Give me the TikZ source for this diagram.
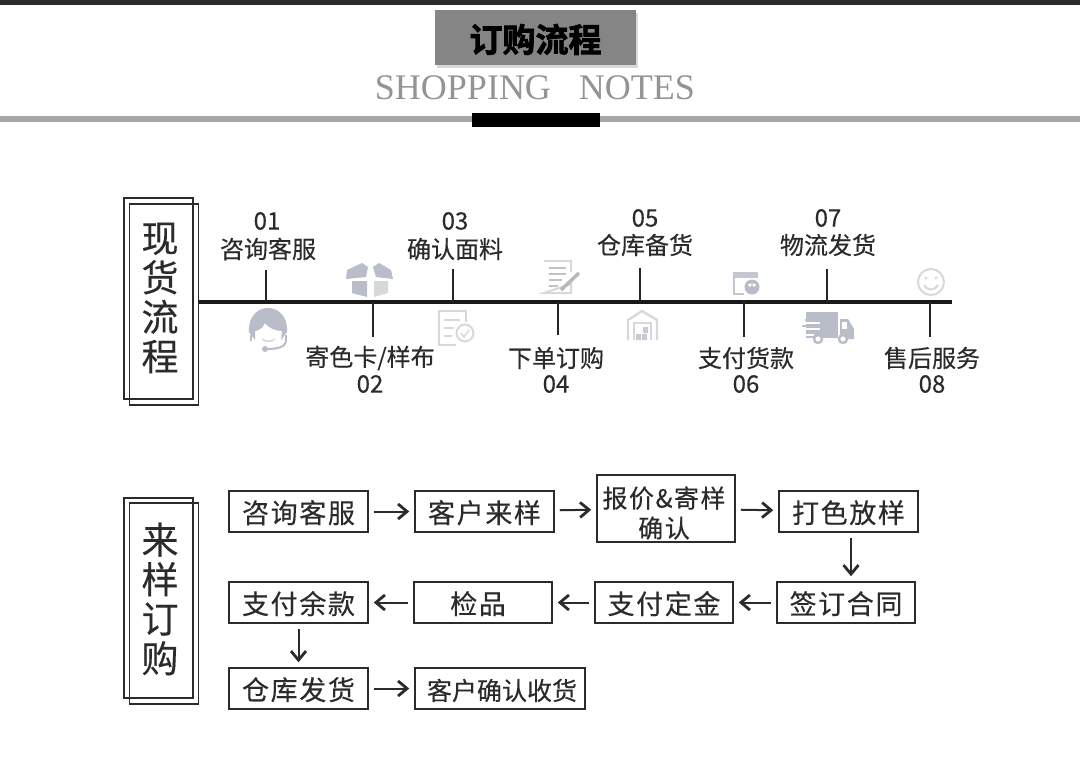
\documentclass[tikz,border=0pt]{standalone}
\usepackage{fontspec}
\usetikzlibrary{arrows.meta,shadows}
\setmainfont{Liberation Serif}
\newfontfamily\cjk[FakeBold=0.35]{Noto Sans CJK SC}
\newfontfamily\cjkwide[LetterSpace=6,FakeBold=0.35]{Noto Sans CJK SC}
\newfontfamily\cjkheavy[FakeBold=2.2]{Noto Sans CJK SC Bold}
\definecolor{linegray}{HTML}{2B2B2B}
\definecolor{icondark}{HTML}{B9BDC9}
\definecolor{iconlight}{HTML}{D6D8DC}
\tikzset{
	flowbox/.style={draw=linegray,line width=1.5pt,inner sep=0pt,minimum width=139pt,minimum height=41pt,text=linegray,text height=26pt,text depth=3pt,font=\fontsize{27}{31}\selectfont\cjkwide},
	sidebox/.style={draw=linegray,line width=1.2pt,inner sep=0pt,minimum width=69pt},
	sidetext/.style={align=center,inner sep=0pt,font=\fontsize{37}{39.5}\selectfont\cjk,text=linegray},
	steptext/.style={inner sep=0pt,font=\fontsize{24}{27}\selectfont\cjk,text=linegray},
	flowarrow/.style={-{Straight Barb[length=9pt,width=15pt,line width=2.8pt]},line width=2pt,draw=linegray,shorten >=5pt,shorten <=5pt},
	iconline/.style={draw=iconlight,line width=2pt,fill=none}
}
\begin{document}
\begin{tikzpicture}[x=1pt,y=-1pt]
	\useasboundingbox (0,0) rectangle (1080,768);
	% header
	\fill[linegray] (0,0) rectangle (1080,5);
	\fill[black!35] (0,116) rectangle (1080,122);
	\fill[black] (472,113) rectangle (600,127);
	\node (title) at (535.5,37.5) [fill=black!48,drop shadow={opacity=0.3,shadow xshift=2pt,shadow yshift=-3pt},minimum width=201pt,minimum height=55pt,inner sep=0pt,text height=29pt,text depth=0pt,font=\fontsize{33}{36}\selectfont\cjkheavy] {订购流程};
	\node (subtitle) at (535,88) [inner sep=0pt,text=black!42,font=\fontsize{36}{40}\selectfont] {SHOPPING\hspace{28pt}NOTES};
	% first block
	\node (sideback) at (164,304.5) [sidebox,minimum height=201pt] {};
	\node (sidefront) at (158.5,298.5) [sidebox,minimum height=201pt] {};
	\node (stocktext) at (160,298) [sidetext] {现\\货\\流\\程};
	\node (s0) at (198,302) [inner sep=0pt] {};
	\node (s9) at (953,302) [inner sep=0pt] {};
	\node (n1) at (267,221) [steptext] {01};
	\node (t1) at (268,249) [steptext] {咨询客服};
	\node (n2) at (370,384) [steptext] {02};
	\node (t2) at (370,358) [steptext] {寄色卡/样布};
	\node (n3) at (455,221) [steptext] {03};
	\node (t3) at (455,249) [steptext] {确认面料};
	\node (n4) at (556,384) [steptext] {04};
	\node (t4) at (556,358) [steptext] {下单订购};
	\node (n5) at (645,218) [steptext] {05};
	\node (t5) at (645,245) [steptext] {仓库备货};
	\node (n6) at (746,384) [steptext] {06};
	\node (t6) at (746,358) [steptext] {支付货款};
	\node (n7) at (828,218) [steptext] {07};
	\node (t7) at (828,245) [steptext] {物流发货};
	\node (n8) at (932,384) [steptext] {08};
	\node (t8) at (932,358) [steptext] {售后服务};
	\draw[line width=3.6pt,black!90] (s0) -- (s9);
	\foreach \x/\ya/\yb in {266/270/302,453/269/302,640/268/302,827/269/302,373/302/337,558/302/335,744/302/337,930/302/337}
		\draw[line width=2pt,black!85] (\x,\ya) -- (\x,\yb);
	% icons
	\fill[icondark] (249,332) .. controls (247,300) and (289,300) .. (287,332) -- (281,340) -- (282,331) .. controls (276,331) and (268,328) .. (265,323) .. controls (263,328) and (258,331) .. (255,331) -- (255,340) -- cycle;
	\draw[icondark,line width=2.5pt] (251,335) -- (251,341) (286,335) -- (286,341);
	\draw[icondark,line width=2pt] (286,340) .. controls (286,347) and (278,349) .. (267,349);
	\fill[icondark] (265,349) circle (3);
	\draw[iconlight,line width=1.5pt] (262,339) .. controls (265,342) and (272,342) .. (275,339);
	\fill[icondark] (347,270) -- (362,263) -- (368,267) -- (366,277) -- (346,279) -- cycle;
	\fill[icondark] (391,270) -- (379,263) -- (373,267) -- (376,277) -- (393,279) -- cycle;
	\fill[icondark] (352,281) -- (367,281) -- (367,297) -- (352,293) -- cycle;
	\fill[iconlight] (374,281) -- (388,281) -- (388,293) -- (374,297) -- cycle;
	\draw[iconline] (456,345) -- (439,345) -- (439,311) -- (466,311) -- (466,322);
	\draw[iconline] (444,320) -- (460,320) (444,328) -- (454,328) (444,336) -- (452,336);
	\draw[iconline] (465,333) circle (8.5);
	\draw[iconline,line width=1.5pt] (461,333) -- (464,337) -- (469,330);
	\draw[iconline] (544,261) -- (571,261) -- (571,272) (571,284) -- (571,293) -- (544,293) -- cycle;
	\draw[iconline,draw=iconlight!90!black] (549,268) -- (566,268) (549,274) -- (566,274) (549,280) -- (562,280) (549,286) -- (558,286);
	\draw[iconline,draw=iconlight!85!black,line width=3.5pt] (561,290) -- (579,273);
	\draw[iconline,line width=2.4pt] (628,340) -- (628,320) -- (642,311) -- (657,320) -- (657,340);
	\draw[iconline] (634,340) -- (634,323) -- (651,323) -- (651,340);
	\fill[icondark!80] (636,334) rectangle (641,340) (642,334) rectangle (647,340) (643,327) rectangle (648,333);
	\draw[iconline,draw=icondark!85,line width=2.4pt] (734,278) -- (734,294) -- (744,294);
	\fill[icondark!85] (733,272) rectangle (758,278);
	\fill[icondark] (752,287) circle (7.5);
	\fill[white] (750,285) circle (1.8) (754,285) circle (1.8);
	\fill[icondark] (806,312) -- (838,312) -- (838,338) -- (806,338) -- cycle;
	\fill[icondark] (840,319) -- (848,319) -- (854,329) -- (854,339) -- (840,339) -- cycle;
	\fill[white] (842,322) rectangle (847,329);
	\draw[white,line width=2pt] (800,323) -- (820,323) (800,329) -- (820,329) (800,335) -- (814,335);
	\draw[icondark,line width=2pt] (802,326) -- (818,326) (805,320) -- (818,320) (806,332) -- (818,332);
	\draw[fill=white,draw=icondark,line width=2.4pt] (818,339) circle (4);
	\draw[fill=white,draw=icondark,line width=2.4pt] (843,339) circle (4);
	\draw[iconline] (931,282) circle (13);
	\fill[iconlight] (926,278) circle (1.6) (936,278) circle (1.6);
	\draw[iconline] (924,285) .. controls (927,291) and (935,291) .. (938,285);
	% second block
	\node (sampleback) at (164,603.5) [sidebox,minimum height=201pt] {};
	\node (samplefront) at (158.5,598) [sidebox,minimum height=200pt] {};
	\node (sampletext) at (160,599) [sidetext] {来\\样\\订\\购};
	\node (a) at (298.5,511.5) [flowbox] {咨询客服};
	\node (b) at (484.5,511.5) [flowbox] {客户来样};
	\node (c) at (666,508.5) [flowbox,minimum width=138pt,minimum height=67pt] {};
	\node (ctext) at (664,513) [inner sep=0pt,align=center,text=linegray,font=\fontsize{25}{30}\selectfont\cjkwide] {报价\&寄样\\确认};
	\node (d) at (848.5,511.5) [flowbox] {打色放样};
	\node (e) at (846,602.5) [flowbox,minimum width=138pt] {签订合同};
	\node (f) at (664,602.5) [flowbox,minimum width=138pt] {支付定金};
	\node (g) at (483,602.5) [flowbox,minimum width=138pt] {\hspace*{-10pt}检品};
	\node (h) at (298.5,602.5) [flowbox] {支付余款};
	\node (i) at (298.5,688.5) [flowbox] {仓库发货};
	\node (j) at (500,688.5) [flowbox,minimum width=170pt,font=\fontsize{25}{27}\selectfont\cjk] {\hspace*{4pt}客户确认收货};
	\draw
	(a) edge[flowarrow] (b)
	(b) edge[flowarrow] (c)
	(c) edge[flowarrow] (d)
	(e) edge[flowarrow] (f)
	(f) edge[flowarrow] (g)
	(g) edge[flowarrow] (h)
	(h) edge[flowarrow] (i)
	(i) edge[flowarrow] (j)
	;
	\draw[flowarrow] ([xshift=2.5pt]d.south) -- ([xshift=5pt]e.north);
\end{tikzpicture}
\end{document}
